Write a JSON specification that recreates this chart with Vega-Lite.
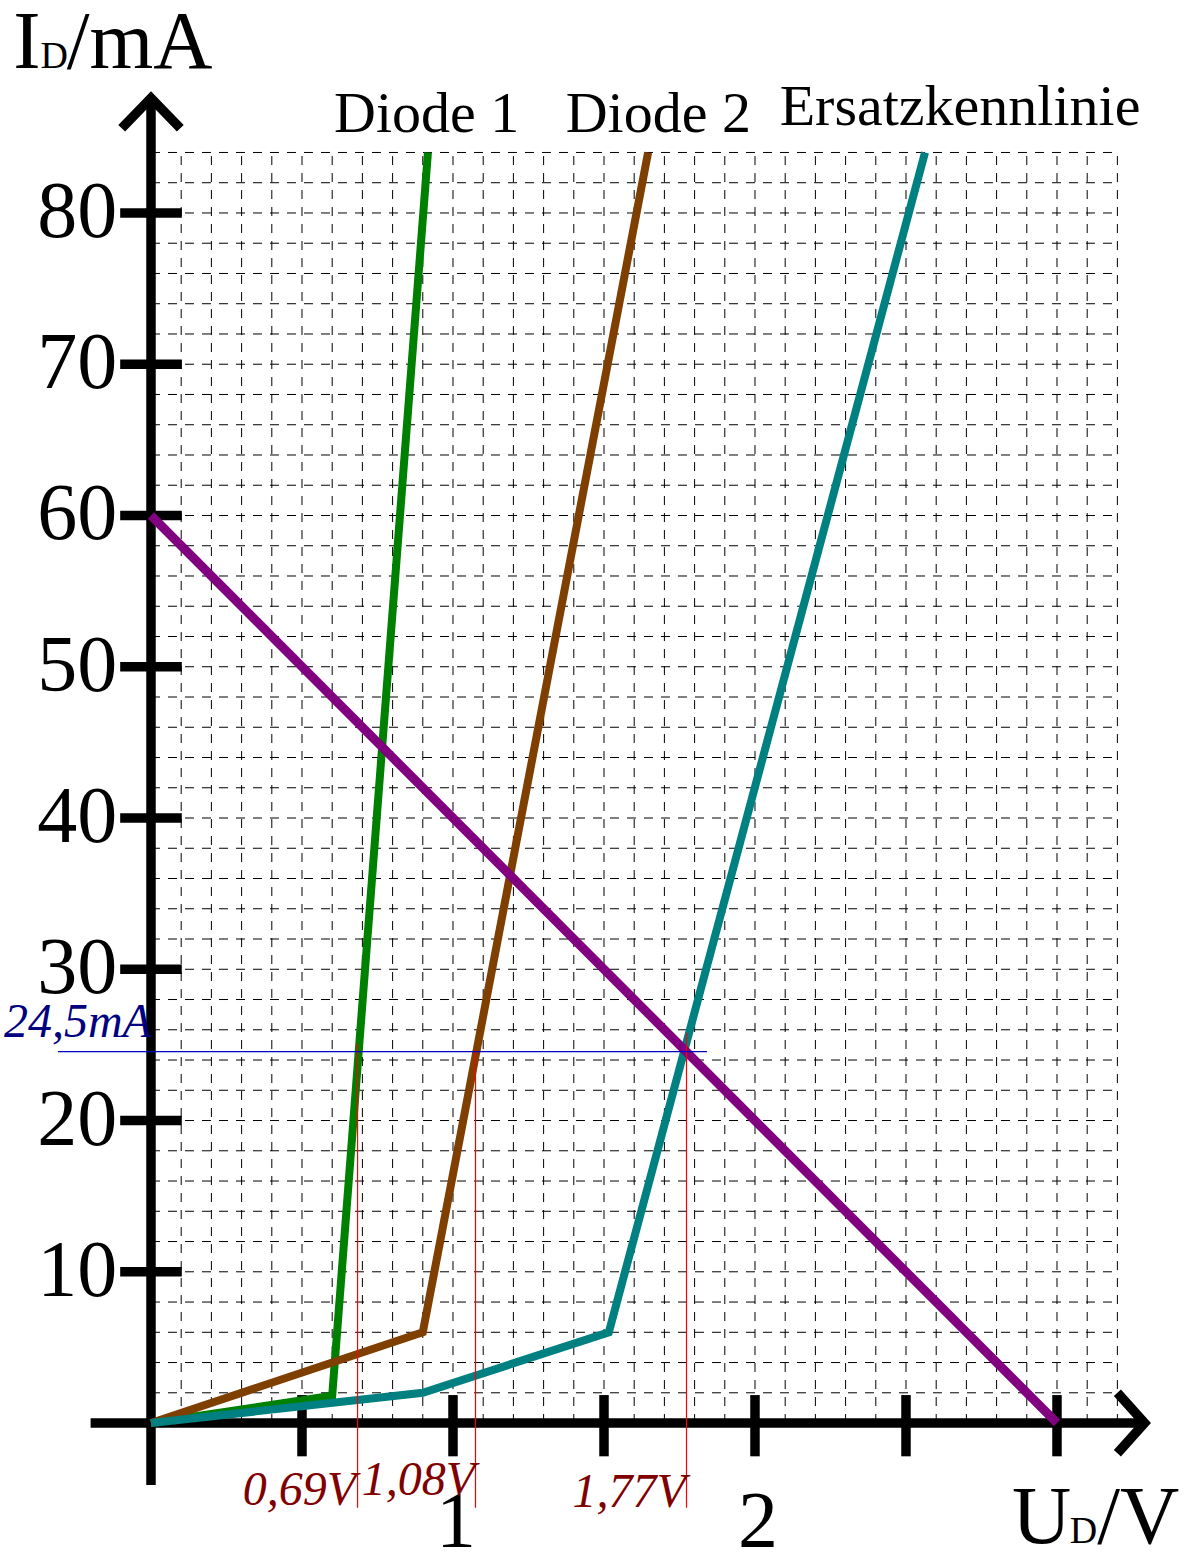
{
  "$schema": "https://vega.github.io/schema/vega-lite/v6.json",
  "width": 1196,
  "height": 1556,
  "autosize": {"type": "none"},
  "padding": 0,
  "background": "white",
  "config": {"view": {"stroke": null}, "text": {"font": "Liberation Serif"}},
  "datasets": {
    "grid": [
      {"x": 0.1, "y": 0, "x2": 0.1, "y2": 84}, {"x": 0.2, "y": 0, "x2": 0.2, "y2": 84},
      {"x": 0.3, "y": 0, "x2": 0.3, "y2": 84}, {"x": 0.4, "y": 0, "x2": 0.4, "y2": 84},
      {"x": 0.5, "y": 0, "x2": 0.5, "y2": 84}, {"x": 0.6, "y": 0, "x2": 0.6, "y2": 84},
      {"x": 0.7, "y": 0, "x2": 0.7, "y2": 84}, {"x": 0.8, "y": 0, "x2": 0.8, "y2": 84},
      {"x": 0.9, "y": 0, "x2": 0.9, "y2": 84}, {"x": 1.0, "y": 0, "x2": 1.0, "y2": 84},
      {"x": 1.1, "y": 0, "x2": 1.1, "y2": 84}, {"x": 1.2, "y": 0, "x2": 1.2, "y2": 84},
      {"x": 1.3, "y": 0, "x2": 1.3, "y2": 84}, {"x": 1.4, "y": 0, "x2": 1.4, "y2": 84},
      {"x": 1.5, "y": 0, "x2": 1.5, "y2": 84}, {"x": 1.6, "y": 0, "x2": 1.6, "y2": 84},
      {"x": 1.7, "y": 0, "x2": 1.7, "y2": 84}, {"x": 1.8, "y": 0, "x2": 1.8, "y2": 84},
      {"x": 1.9, "y": 0, "x2": 1.9, "y2": 84}, {"x": 2.0, "y": 0, "x2": 2.0, "y2": 84},
      {"x": 2.1, "y": 0, "x2": 2.1, "y2": 84}, {"x": 2.2, "y": 0, "x2": 2.2, "y2": 84},
      {"x": 2.3, "y": 0, "x2": 2.3, "y2": 84}, {"x": 2.4, "y": 0, "x2": 2.4, "y2": 84},
      {"x": 2.5, "y": 0, "x2": 2.5, "y2": 84}, {"x": 2.6, "y": 0, "x2": 2.6, "y2": 84},
      {"x": 2.7, "y": 0, "x2": 2.7, "y2": 84}, {"x": 2.8, "y": 0, "x2": 2.8, "y2": 84},
      {"x": 2.9, "y": 0, "x2": 2.9, "y2": 84}, {"x": 3.0, "y": 0, "x2": 3.0, "y2": 84},
      {"x": 3.1, "y": 0, "x2": 3.1, "y2": 84}, {"x": 3.2, "y": 0, "x2": 3.2, "y2": 84},
      {"x": 0, "y": 2, "x2": 3.2, "y2": 2}, {"x": 0, "y": 4, "x2": 3.2, "y2": 4},
      {"x": 0, "y": 6, "x2": 3.2, "y2": 6}, {"x": 0, "y": 8, "x2": 3.2, "y2": 8},
      {"x": 0, "y": 10, "x2": 3.2, "y2": 10}, {"x": 0, "y": 12, "x2": 3.2, "y2": 12},
      {"x": 0, "y": 14, "x2": 3.2, "y2": 14}, {"x": 0, "y": 16, "x2": 3.2, "y2": 16},
      {"x": 0, "y": 18, "x2": 3.2, "y2": 18}, {"x": 0, "y": 20, "x2": 3.2, "y2": 20},
      {"x": 0, "y": 22, "x2": 3.2, "y2": 22}, {"x": 0, "y": 24, "x2": 3.2, "y2": 24},
      {"x": 0, "y": 26, "x2": 3.2, "y2": 26}, {"x": 0, "y": 28, "x2": 3.2, "y2": 28},
      {"x": 0, "y": 30, "x2": 3.2, "y2": 30}, {"x": 0, "y": 32, "x2": 3.2, "y2": 32},
      {"x": 0, "y": 34, "x2": 3.2, "y2": 34}, {"x": 0, "y": 36, "x2": 3.2, "y2": 36},
      {"x": 0, "y": 38, "x2": 3.2, "y2": 38}, {"x": 0, "y": 40, "x2": 3.2, "y2": 40},
      {"x": 0, "y": 42, "x2": 3.2, "y2": 42}, {"x": 0, "y": 44, "x2": 3.2, "y2": 44},
      {"x": 0, "y": 46, "x2": 3.2, "y2": 46}, {"x": 0, "y": 48, "x2": 3.2, "y2": 48},
      {"x": 0, "y": 50, "x2": 3.2, "y2": 50}, {"x": 0, "y": 52, "x2": 3.2, "y2": 52},
      {"x": 0, "y": 54, "x2": 3.2, "y2": 54}, {"x": 0, "y": 56, "x2": 3.2, "y2": 56},
      {"x": 0, "y": 58, "x2": 3.2, "y2": 58}, {"x": 0, "y": 60, "x2": 3.2, "y2": 60},
      {"x": 0, "y": 62, "x2": 3.2, "y2": 62}, {"x": 0, "y": 64, "x2": 3.2, "y2": 64},
      {"x": 0, "y": 66, "x2": 3.2, "y2": 66}, {"x": 0, "y": 68, "x2": 3.2, "y2": 68},
      {"x": 0, "y": 70, "x2": 3.2, "y2": 70}, {"x": 0, "y": 72, "x2": 3.2, "y2": 72},
      {"x": 0, "y": 74, "x2": 3.2, "y2": 74}, {"x": 0, "y": 76, "x2": 3.2, "y2": 76},
      {"x": 0, "y": 78, "x2": 3.2, "y2": 78}, {"x": 0, "y": 80, "x2": 3.2, "y2": 80},
      {"x": 0, "y": 82, "x2": 3.2, "y2": 82}, {"x": 0, "y": 84, "x2": 3.2, "y2": 84}
    ],
    "frame": [
      {"x": 0, "y": -4.1, "x2": 0, "y2": 87.6},
      {"x": -0.2, "y": 0, "x2": 3.29, "y2": 0},
      {"x": -0.102, "y": 10, "x2": 0.102, "y2": 10},
      {"x": -0.102, "y": 20, "x2": 0.102, "y2": 20},
      {"x": -0.102, "y": 30, "x2": 0.102, "y2": 30},
      {"x": -0.102, "y": 40, "x2": 0.102, "y2": 40},
      {"x": -0.102, "y": 50, "x2": 0.102, "y2": 50},
      {"x": -0.102, "y": 60, "x2": 0.102, "y2": 60},
      {"x": -0.102, "y": 70, "x2": 0.102, "y2": 70},
      {"x": -0.102, "y": 80, "x2": 0.102, "y2": 80},
      {"x": 0.5, "y": -2.2, "x2": 0.5, "y2": 1.85},
      {"x": 1.0, "y": -2.2, "x2": 1.0, "y2": 1.85},
      {"x": 1.5, "y": -2.2, "x2": 1.5, "y2": 1.85},
      {"x": 2.0, "y": -2.2, "x2": 2.0, "y2": 1.85},
      {"x": 2.5, "y": -2.2, "x2": 2.5, "y2": 1.85},
      {"x": 3.0, "y": -2.2, "x2": 3.0, "y2": 1.85}
    ],
    "arrows": [
      {"a": "y", "o": 1, "x": -0.097, "y": 85.6},
      {"a": "y", "o": 2, "x": 0, "y": 87.6},
      {"a": "y", "o": 3, "x": 0.097, "y": 85.6},
      {"a": "x", "o": 1, "x": 3.2, "y": 2.0},
      {"a": "x", "o": 2, "x": 3.29, "y": 0},
      {"a": "x", "o": 3, "x": 3.2, "y": -2.0}
    ],
    "curves": [
      {"s": "Diode 1", "o": 1, "x": 0, "y": 0},
      {"s": "Diode 1", "o": 2, "x": 0.6, "y": 1.8},
      {"s": "Diode 1", "o": 3, "x": 0.917, "y": 84},
      {"s": "Diode 2", "o": 1, "x": 0, "y": 0},
      {"s": "Diode 2", "o": 2, "x": 0.9, "y": 6},
      {"s": "Diode 2", "o": 3, "x": 1.646, "y": 84},
      {"s": "Ersatzkennlinie", "o": 1, "x": 0, "y": 0},
      {"s": "Ersatzkennlinie", "o": 2, "x": 0.9, "y": 2},
      {"s": "Ersatzkennlinie", "o": 3, "x": 1.516, "y": 6},
      {"s": "Ersatzkennlinie", "o": 4, "x": 2.563, "y": 84}
    ],
    "load": [
      {"s": "Arbeitsgerade", "o": 1, "x": 0, "y": 60},
      {"s": "Arbeitsgerade", "o": 2, "x": 3, "y": 0}
    ],
    "redlines": [
      {"x": 0.684, "y": -5.6, "x2": 0.684, "y2": 25.1},
      {"x": 1.0745, "y": -5.6, "x2": 1.0745, "y2": 24.7},
      {"x": 1.7732, "y": -5.6, "x2": 1.7732, "y2": 25.8}
    ],
    "blueline": [
      {"x": -0.308, "y": 24.56, "x2": 1.841, "y2": 24.56}
    ],
    "ylabels": [
      {"t": "10", "x": -0.112, "y": 10}, {"t": "20", "x": -0.112, "y": 20},
      {"t": "30", "x": -0.112, "y": 30}, {"t": "40", "x": -0.112, "y": 40},
      {"t": "50", "x": -0.112, "y": 50}, {"t": "60", "x": -0.112, "y": 60},
      {"t": "70", "x": -0.112, "y": 70}, {"t": "80", "x": -0.112, "y": 80}
    ],
    "xlabels": [
      {"t": "1", "x": 1.01, "y": -8.2}, {"t": "2", "x": 2.01, "y": -8.2}
    ],
    "names": [
      {"t": "Diode 1", "x": 0.913, "y": 85.35},
      {"t": "Diode 2", "x": 1.68, "y": 85.35},
      {"t": "Ersatzkennlinie", "x": 2.679, "y": 85.81}
    ],
    "titlebig": [
      {"t": "I", "x": -0.456, "y": 89.58},
      {"t": "/mA", "x": -0.279, "y": 89.58},
      {"t": "U", "x": 2.851, "y": -7.93},
      {"t": "/V", "x": 3.133, "y": -7.93}
    ],
    "titlesub": [
      {"t": "D", "x": -0.366, "y": 89.58},
      {"t": "D", "x": 3.042, "y": -7.93}
    ],
    "redlabels": [
      {"t": "0,69V", "x": 0.304, "y": -5.42},
      {"t": "1,08V", "x": 0.698, "y": -4.76},
      {"t": "1,77V", "x": 1.396, "y": -5.55}
    ],
    "bluelabels": [
      {"t": "24,5mA", "x": 0.003, "y": 25.52}
    ]
  },
  "encoding": {
    "x": {"field": "x", "type": "quantitative", "axis": null, "scale": {"domain": [-0.5, 3.4603], "nice": false, "zero": false}},
    "y": {"field": "y", "type": "quantitative", "axis": null, "scale": {"domain": [-8.79, 94.08], "nice": false, "zero": false}}
  },
  "layer": [
    {
      "data": {"name": "grid"},
      "mark": {"type": "rule", "color": "black", "strokeWidth": 1, "strokeDash": [9, 8]},
      "encoding": {"x2": {"field": "x2"}, "y2": {"field": "y2"}}
    },
    {
      "data": {"name": "frame"},
      "mark": {"type": "rule", "color": "black", "strokeWidth": 9.5, "strokeCap": "butt"},
      "encoding": {"x2": {"field": "x2"}, "y2": {"field": "y2"}}
    },
    {
      "data": {"name": "arrows"},
      "mark": {"type": "line", "color": "black", "strokeWidth": 9.5, "strokeJoin": "miter", "strokeCap": "butt"},
      "encoding": {"detail": {"field": "a"}, "order": {"field": "o", "type": "quantitative"}}
    },
    {
      "data": {"name": "curves"},
      "mark": {"type": "line", "strokeWidth": 8, "strokeJoin": "miter", "strokeCap": "butt"},
      "encoding": {
        "color": {"field": "s", "type": "nominal", "legend": null, "scale": {"domain": ["Diode 1", "Diode 2", "Ersatzkennlinie"], "range": ["#008000", "#7f3f00", "#008080"]}},
        "order": {"field": "o", "type": "quantitative"}
      }
    },
    {
      "data": {"name": "load"},
      "mark": {"type": "line", "strokeWidth": 9, "color": "#800080", "strokeCap": "butt"},
      "encoding": {"order": {"field": "o", "type": "quantitative"}}
    },
    {
      "data": {"name": "redlines"},
      "mark": {"type": "rule", "color": "#ff0000", "strokeWidth": 1.2},
      "encoding": {"x2": {"field": "x2"}, "y2": {"field": "y2"}}
    },
    {
      "data": {"name": "blueline"},
      "mark": {"type": "rule", "color": "#0000c0", "strokeWidth": 1.2},
      "encoding": {"x2": {"field": "x2"}, "y2": {"field": "y2"}}
    },
    {
      "data": {"name": "ylabels"},
      "mark": {"type": "text", "fontSize": 80, "align": "right", "baseline": "middle", "color": "black"},
      "encoding": {"text": {"field": "t"}}
    },
    {
      "data": {"name": "xlabels"},
      "mark": {"type": "text", "fontSize": 80, "align": "center", "baseline": "alphabetic", "color": "black"},
      "encoding": {"text": {"field": "t"}}
    },
    {
      "data": {"name": "names"},
      "mark": {"type": "text", "fontSize": 58, "align": "center", "baseline": "alphabetic", "color": "black"},
      "encoding": {"text": {"field": "t"}}
    },
    {
      "data": {"name": "titlebig"},
      "mark": {"type": "text", "fontSize": 82, "align": "left", "baseline": "alphabetic", "color": "black"},
      "encoding": {"text": {"field": "t"}}
    },
    {
      "data": {"name": "titlesub"},
      "mark": {"type": "text", "fontSize": 38, "align": "left", "baseline": "alphabetic", "color": "black"},
      "encoding": {"text": {"field": "t"}}
    },
    {
      "data": {"name": "redlabels"},
      "mark": {"type": "text", "fontSize": 48, "fontStyle": "italic", "align": "left", "baseline": "alphabetic", "color": "#800000"},
      "encoding": {"text": {"field": "t"}}
    },
    {
      "data": {"name": "bluelabels"},
      "mark": {"type": "text", "fontSize": 48, "fontStyle": "italic", "align": "right", "baseline": "alphabetic", "color": "#000080"},
      "encoding": {"text": {"field": "t"}}
    }
  ]
}
